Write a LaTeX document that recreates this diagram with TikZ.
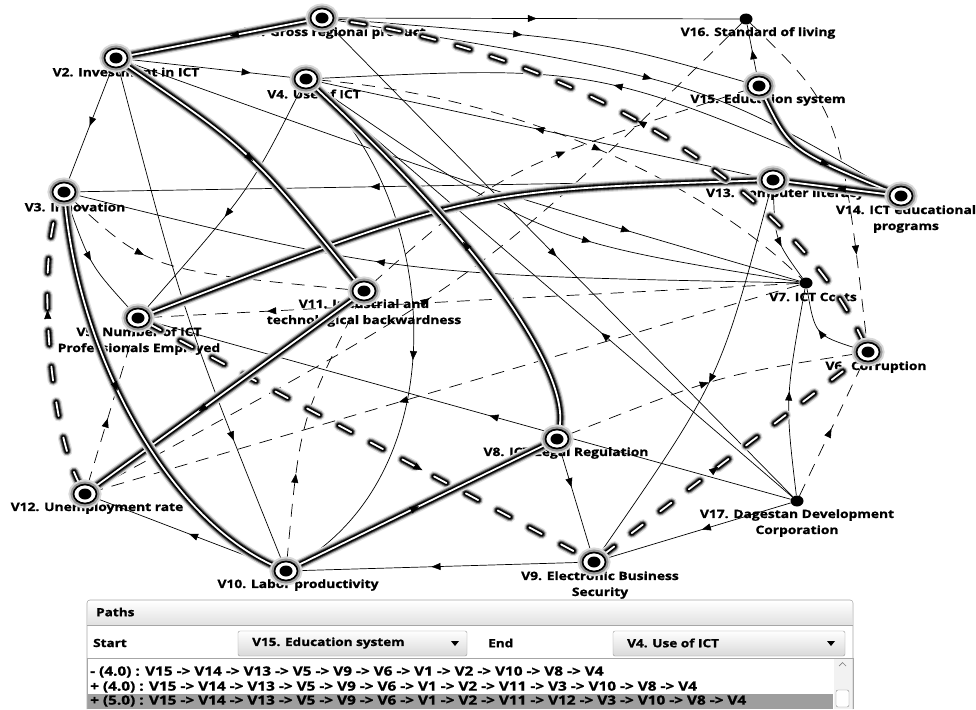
\documentclass[tikz,border=0pt]{standalone}
\usepackage{fontspec}
\setmainfont{Open Sans}[FakeStretch=1.2, BoldFeatures={FakeBold=1.2}]
\usetikzlibrary{arrows.meta,decorations.markings,shapes.geometric}

\pgfdeclarelayer{labels}
\pgfdeclarelayer{edges}
\pgfsetlayers{labels,edges,main}

\begin{document}
\begin{tikzpicture}[x=1pt, y=-1pt,
    vert/.style={ellipse, draw=black, line width=1.7pt, fill=white,
      minimum width=23pt, minimum height=19pt, inner sep=0pt,
      preaction={draw=black!15, line width=10pt},
      preaction={draw=black!40, line width=6pt},
      path picture={\fill[black] (path picture bounding box.center) ellipse (6.5pt and 5.5pt);}},
    pt/.style={ellipse, fill=black, minimum width=13pt, minimum height=11pt, inner sep=0pt},
    lbl/.style={font=\bfseries\fontsize{11.5}{16}\selectfont, align=center, inner sep=0pt},
    midtip/.style={postaction={decorate, decoration={markings,
      mark=at position #1 with {\arrow[black, line width=0.5pt]{Triangle[length=9pt, width=7pt]}}}}},
    link/.style={draw, line width=0.7pt, midtip=#1}, link/.default=0.5,
    neg/.style={link=#1, dash pattern=on 13pt off 9pt}, neg/.default=0.5,
    glow/.style={preaction={draw=black!12, line width=11pt, #1},
      preaction={draw=black!40, line width=8.5pt, #1},
      preaction={draw=black!75, line width=6.5pt, #1},
      preaction={draw=black, line width=4.6pt, #1}},
    hl/.style={glow={solid}, draw=white, line width=1.8pt, midtip=#1}, hl/.default=0.5,
    hlneg/.style={glow={dash pattern=on 14pt off 22pt, line cap=round}, draw=white,
      line width=1.8pt, dash pattern=on 14pt off 22pt, line cap=round, midtip=#1}, hlneg/.default=0.5,
    panel/.style={draw=black!35, line width=0.6pt},
    combo/.style={draw=black!40, rounded corners=2pt, top color=white, bottom color=black!15},
    txt/.style={font=\bfseries\fontsize{11.3}{13}\selectfont, inner sep=0pt, anchor=west},
    row/.style={font=\bfseries\fontsize{12.8}{15}\selectfont, inner sep=0pt, anchor=west}]

\useasboundingbox (0,0) rectangle (976,709);

% vertices
\node[vert] (v1) at (322,18) {};
\node[vert] (v2) at (116,58) {};
\node[vert] (v3) at (64,192) {};
\node[vert] (v4) at (306,79) {};
\node[vert] (v5) at (138,318) {};
\node[vert] (v6) at (868,352) {};
\node[pt] (v7) at (806,283) {};
\node[vert] (v8) at (557,439) {};
\node[vert] (v9) at (594,562) {};
\node[vert] (v10) at (286,571) {};
\node[vert] (v11) at (364,291) {};
\node[vert] (v12) at (85,494) {};
\node[vert] (v13) at (773,180) {};
\node[vert] (v14) at (901,196) {};
\node[vert] (v15) at (759,86) {};
\node[pt] (v16) at (746,19) {};
\node[pt] (v17) at (797,501) {};

\begin{pgfonlayer}{labels}
\node[lbl] (l1) at (335,33) {V1. Gross regional product};
\node[lbl] (l2) at (126,72) {V2. Investment in ICT};
\node[lbl] (l3) at (75,207) {V3. Innovation};
\node[lbl] (l4) at (314,94) {V4. Use of ICT};
\node[lbl] (l5) at (139,341) {V5. Number of ICT\\Professionals Employed};
\node[lbl] (l6) at (876,367) {V6. Corruption};
\node[lbl] (l7) at (813,297) {V7. ICT Costs};
\node[lbl] (l8) at (566,453) {V8. ICT Legal Regulation};
\node[lbl] (l9) at (600,585) {V9. Electronic Business\\Security};
\node[lbl] (l10) at (298,585) {V10. Labor productivity};
\node[lbl] (l11) at (364,313) {V11. Industrial and\\technological backwardness};
\node[lbl] (l12) at (97,508) {V12. Unemployment rate};
\node[lbl] (l13) at (785,194) {V13. Computer literacy};
\node[lbl] (l14) at (906,219) {V14. ICT educational\\programs};
\node[lbl] (l15) at (768,100) {V15. Education system};
\node[lbl] (l16) at (758,33) {V16. Standard of living};
\node[lbl] (l17) at (797,523) {V17. Dagestan Development\\Corporation};
\end{pgfonlayer}

\begin{pgfonlayer}{edges}
% plain relations
\draw[link] (v1) -- (v16);
\draw[link=0.45] (v1) .. controls (600,40) .. (v15);
\draw[link=0.55] (v1) .. controls (700,80) .. (v14);
\draw[link=0.49] (v1) -- (v17);
\draw[link=0.74] (v2) -- (v4);
\draw[link=0.51] (v2) -- (v3);
\draw[link=0.75] (v2) .. controls (185,320) .. (v10);
\draw[link=0.75] (v2) .. controls (470,185) .. (v7);
\draw[link=0.5] (v3) .. controls (90,265) .. (v5);
\draw[link=0.57] (v13) -- (v3);
\draw[link=0.58] (v7) .. controls (400,275) .. (v3);
\draw[link=0.55] (v4) .. controls (250,190) .. (v5);
\draw[link=0.55] (v4) .. controls (440,200) and (460,470) .. (v10);
\draw[link=0.6] (v4) .. controls (540,240) .. (v7);
\draw[link=0.51] (v13) -- (v4);
\draw[link] (v14) .. controls (600,65) .. (v4);
\draw[link] (v15) -- (v16);
\draw[link=0.6] (v13) .. controls (775,240) .. (v7);
\draw[link] (v6) .. controls (815,335) .. (v7);
\draw[link] (v17) .. controls (785,400) .. (v7);
\draw[link] (v13) .. controls (720,380) .. (v9);
\draw[link=0.4] (v17) -- (v4);
\draw[link=0.47] (v17) -- (v5);
\draw[link=0.48] (v17) -- (v9);
\draw[link=0.37] (v8) -- (v9);
\draw[link=0.53] (v9) -- (v10);
\draw[link=0.48] (v10) -- (v12);
% negative relations
\draw[neg=0.75] (v16) .. controls (840,110) .. (v6);
\draw[neg] (v17) -- (v6);
\draw[neg=0.3] (v3) .. controls (150,270) .. (v11);
\draw[neg=0.82] (v7) -- (v5);
\draw[neg=0.57] (v7) -- (v12);
\draw[neg=0.42] (v12) -- (v5);
\draw[neg=0.32] (v10) .. controls (300,420) .. (v11);
\draw[neg=0.48] (v12) .. controls (480,280) .. (v16);
\draw[neg=0.55] (v11) .. controls (500,170) .. (v15);
\draw[neg=0.55] (v4) .. controls (500,95) and (690,170) .. (v7);
\draw[neg] (v8) .. controls (720,375) .. (v6);
% selected path
\draw[hl=0.6] (v15) .. controls (790,150) .. (v14);
\draw[hl] (v14) -- (v13);
\draw[hl=0.52] (v13) .. controls (470,190) .. (v5);
\draw[hlneg=0.63] (v5) -- (v9);
\draw[hlneg=0.45] (v9) -- (v6);
\draw[hlneg] (v6) .. controls (790,180) and (560,50) .. (v1);
\draw[hl=0.44] (v1) -- (v2);
\draw[hl] (v2) .. controls (250,150) .. (v11);
\draw[hl=0.6] (v11) -- (v12);
\draw[hlneg=0.62] (v12) .. controls (50,430) and (35,260) .. (v3);
\draw[hl=0.45] (v3) .. controls (80,360) and (170,520) .. (v10);
\draw[hl=0.49] (v10) -- (v8);
\draw[hl] (v8) .. controls (570,380) and (500,260) .. (v4);
\end{pgfonlayer}

% paths panel
\draw[panel, fill=white] (87,709) -- (87,603) [rounded corners=3pt] -- (87,600) -- (853,600) [sharp corners] -- (853,709);
\shade[top color=white, bottom color=black!12] (88,601) rectangle (852,625);
\draw[panel] (87,625) -- (853,625);
\node[txt] (paths) at (96,612) {Paths};
\node[txt] (start) at (93,643) {Start};
\draw[combo] (238,631) rectangle (467,656);
\node[txt] (startval) at (252,643) {V15. Education system};
\fill (451,641) -- (459,641) -- (455,646) -- cycle;
\node[txt] (end) at (488,643) {End};
\draw[combo] (613,631) rectangle (845,656);
\node[txt] (endval) at (627,643) {V4. Use of ICT};
\fill (827,641) -- (835,641) -- (831,646) -- cycle;
\draw[panel] (87,709) -- (87,658) -- (853,658) -- (853,709);
\fill[black!38] (88,694) rectangle (833,709);
\node[row] (row1) at (90,672) {- (4.0) : V15 -> V14 -> V13 -> V5 -> V9 -> V6 -> V1 -> V2 -> V10 -> V8 -> V4};
\node[row] (row2) at (90,687) {+ (4.0) : V15 -> V14 -> V13 -> V5 -> V9 -> V6 -> V1 -> V2 -> V11 -> V3 -> V10 -> V8 -> V4};
\node[row] (row3) at (90,701) {+ (5.0) : V15 -> V14 -> V13 -> V5 -> V9 -> V6 -> V1 -> V2 -> V11 -> V12 -> V3 -> V10 -> V8 -> V4};
\fill[black!5] (834,659) rectangle (852,709);
\draw[black!50, line width=0.7pt] (839,666) -- (842.5,662.5) -- (846,666);
\draw[black!45, fill=white, rounded corners=2pt] (836,690) rectangle (849,707);
\end{tikzpicture}
\end{document}
